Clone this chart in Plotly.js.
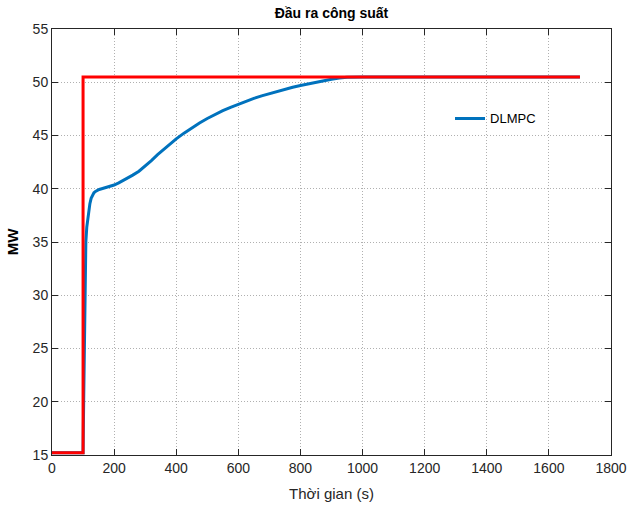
<!DOCTYPE html>
<html>
<head>
<meta charset="utf-8">
<script src="https://cdn.plot.ly/plotly-3.0.1.min.js"></script>
<style>html,body{margin:0;padding:0;background:#fff;}#chart{width:632px;height:506px;}</style>
</head>
<body>
<div id="chart"></div>
<script>
// Data
const timeDLMPC = [0, 100, 102, 104, 106, 109, 112, 115, 118, 122, 126, 130, 135, 140, 145, 152, 160, 170, 180, 190, 200, 215, 230, 245, 260, 280, 300, 320, 340, 360, 380, 400, 425, 450, 475, 500, 525, 550, 575, 600, 625, 650, 675, 700, 725, 750, 775, 800, 825, 850, 875, 900, 925, 950, 1000, 1100, 1200, 1400, 1700];
const powerDLMPC = [15.2, 15.2, 20, 26, 30, 35, 36.4, 37.1, 37.9, 38.6, 39.1, 39.4, 39.62, 39.75, 39.85, 39.93, 40.0, 40.07, 40.15, 40.24, 40.35, 40.55, 40.78, 41.02, 41.28, 41.65, 42.12, 42.65, 43.2, 43.72, 44.22, 44.68, 45.22, 45.72, 46.18, 46.6, 46.98, 47.33, 47.65, 47.94, 48.22, 48.48, 48.72, 48.94, 49.15, 49.35, 49.53, 49.7, 49.86, 50.01, 50.15, 50.28, 50.4, 50.48, 50.5, 50.5, 50.5, 50.5, 50.5];
const timeRef = [0, 100, 100, 1700];
const powerRef = [15.2, 15.2, 50.5, 50.5];
const xTicks = [0, 200, 400, 600, 800, 1000, 1200, 1400, 1600, 1800];
const yTicks = [15, 20, 25, 30, 35, 40, 45, 50, 55];

const font = 'Liberation Sans, Arial, Helvetica, sans-serif';

const traces = [
  {x: timeDLMPC, y: powerDLMPC, type: 'scatter', mode: 'lines', name: 'DLMPC',
   line: {color: '#0072BD', width: 3}, showlegend: true},
  {x: timeRef, y: powerRef, type: 'scatter', mode: 'lines', name: 'Ref',
   line: {color: '#FF0000', width: 3}, showlegend: false}
];

const axisCommon = {
  showline: true, linecolor: '#262626', linewidth: 1, mirror: 'ticks',
  ticks: 'inside', ticklen: 6, tickcolor: '#262626', tickwidth: 1,
  showgrid: true, gridcolor: '#b0b0b0', griddash: '1px,2px', gridwidth: 1,
  zeroline: false, tickfont: {family: font, size: 14, color: '#262626'}
};

const layout = {
  width: 632, height: 506,
  margin: {l: 52, r: 21, t: 29, b: 51},
  paper_bgcolor: '#fff', plot_bgcolor: '#fff',
  title: {text: '<b>Đầu ra công suất</b>', font: {family: font, size: 14, color: '#000'},
          x: 0.5, xref: 'paper', y: 1 - 13/506, yref: 'container', yanchor: 'middle'},
  xaxis: Object.assign({}, axisCommon, {
    range: [0, 1800], tickvals: xTicks, ticktext: xTicks.map(String),
    title: {text: 'Thời gian (s)', font: {family: font, size: 15, color: '#262626'}, standoff: 13}
  }),
  yaxis: Object.assign({}, axisCommon, {
    range: [15, 55], tickvals: yTicks, ticktext: yTicks.map(String),
    title: {text: '<b>MW</b>', font: {family: font, size: 15, color: '#000'}, standoff: 10}
  }),
  legend: {x: 0.712, y: 0.79, xanchor: 'left', yanchor: 'middle', bgcolor: 'rgba(0,0,0,0)',
           borderwidth: 0, font: {family: font, size: 13, color: '#000'}},
  showlegend: true
};

Plotly.newPlot('chart', traces, layout, {staticPlot: true, displayModeBar: false});
</script>
</body>
</html>
